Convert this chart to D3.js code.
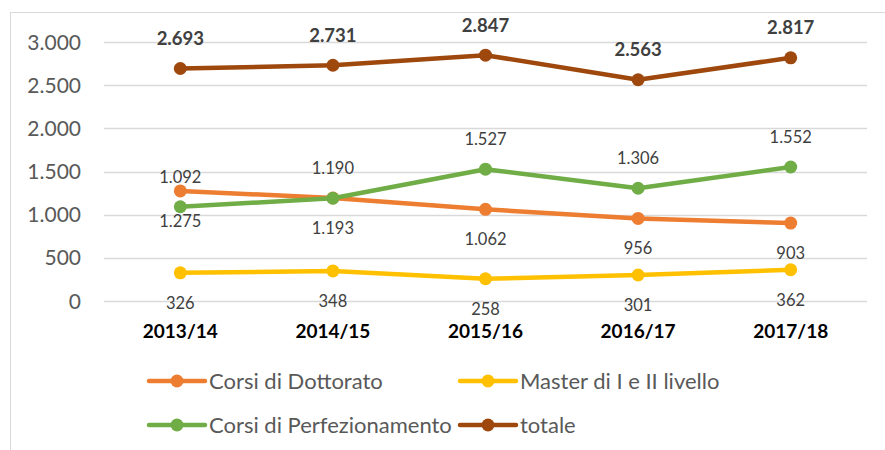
<!DOCTYPE html>
<html><head><meta charset="utf-8">
<script src="https://cdn.jsdelivr.net/npm/d3@7"></script>
<style>body{margin:0;background:#fff}svg{display:block}</style>
</head><body>
<svg id="c" width="885" height="450"></svg>
<script>
const categories = ["2013/14","2014/15","2015/16","2016/17","2017/18"];
const dottorato = [1275,1193,1062,956,903];
const master = [326,348,258,301,362];
const perfezionamento = [1092,1190,1527,1306,1552];
const totale = [2693,2731,2847,2563,2817];
const yTicks = [0,500,1000,1500,2000,2500,3000];

const series = [
  {name:"Corsi di Dottorato", values:dottorato, color:"#ED7D31", labelPos:"below", bold:false},
  {name:"Master di I e II livello", values:master, color:"#FFC000", labelPos:"below", bold:false},
  {name:"Corsi di Perfezionamento", values:perfezionamento, color:"#70AD47", labelPos:"above", bold:false},
  {name:"totale", values:totale, color:"#9E480E", labelPos:"above", bold:true}
];

const loc = d3.formatLocale({decimal:",", thousands:".", grouping:[3], currency:["","€"]});
const fmt = loc.format(",d");

const svg = d3.select("#c");
const font = "Lato, 'Open Sans', sans-serif";

// outer frame
svg.append("rect").attr("x",10.5).attr("y",12.5).attr("width",900).attr("height",500)
  .attr("fill","none").attr("stroke","#d9d9d9").attr("stroke-width",1);

const x = d3.scalePoint().domain(categories).range([104,867]).padding(0.5);
const y = d3.scaleLinear().domain([0,3000]).range([301,42]);

// gridlines
svg.append("g").selectAll("line").data(yTicks).join("line")
  .attr("x1",104).attr("x2",867)
  .attr("y1",d=>Math.round(y(d))+0.5).attr("y2",d=>Math.round(y(d))+0.5)
  .attr("stroke","#d9d9d9").attr("stroke-width",1.3);

// y tick labels
svg.append("g").selectAll("text").data(yTicks).join("text")
  .attr("x",81).attr("y",d=>y(d)).attr("dy","0.36em")
  .attr("text-anchor","end").attr("font-family",font).attr("font-size",21)
  .attr("fill","#595959").text(d=>fmt(d));

// x labels
svg.append("g").selectAll("text").data(categories).join("text")
  .attr("x",d=>x(d)).attr("y",331).attr("dy","0.36em")
  .attr("text-anchor","middle").attr("font-family",font).attr("font-size",19)
  .attr("font-weight","bold").attr("fill","#000").text(d=>d);

const line = d3.line().x((d,i)=>x(categories[i])).y(d=>y(d));

series.forEach(s=>{
  const g = svg.append("g");
  g.append("path").datum(s.values).attr("d",line).attr("fill","none")
    .attr("stroke",s.color).attr("stroke-width",4.5).attr("stroke-linejoin","round");
  g.selectAll("circle").data(s.values).join("circle")
    .attr("cx",(d,i)=>x(categories[i])).attr("cy",d=>y(d)).attr("r",6.5)
    .attr("fill",s.color);
  g.selectAll("text").data(s.values).join("text")
    .attr("x",(d,i)=>x(categories[i]))
    .attr("y",d=>y(d)+(s.labelPos==="above"? -30 : 30))
    .attr("dy","0.36em").attr("text-anchor","middle")
    .attr("font-family",font).attr("font-size",s.bold?18.5:16.5)
    .attr("font-weight",s.bold?"bold":"normal")
    .attr("fill","#404040").text(d=>fmt(d));
});

// legend
const legendPos = [[149,381],[460,381],[149,425],[460,425]];
series.forEach((s,i)=>{
  const [lx,ly] = legendPos[i];
  const g = svg.append("g");
  g.append("line").attr("x1",lx).attr("x2",lx+56).attr("y1",ly).attr("y2",ly)
    .attr("stroke",s.color).attr("stroke-width",4.5).attr("stroke-linecap","round");
  g.append("circle").attr("cx",lx+28).attr("cy",ly).attr("r",6.5).attr("fill",s.color);
  g.append("text").attr("x",lx+60).attr("y",ly).attr("dy","0.36em")
    .attr("font-family",font).attr("font-size",22).attr("fill","#595959").text(s.name);
});
</script>
</body></html>
